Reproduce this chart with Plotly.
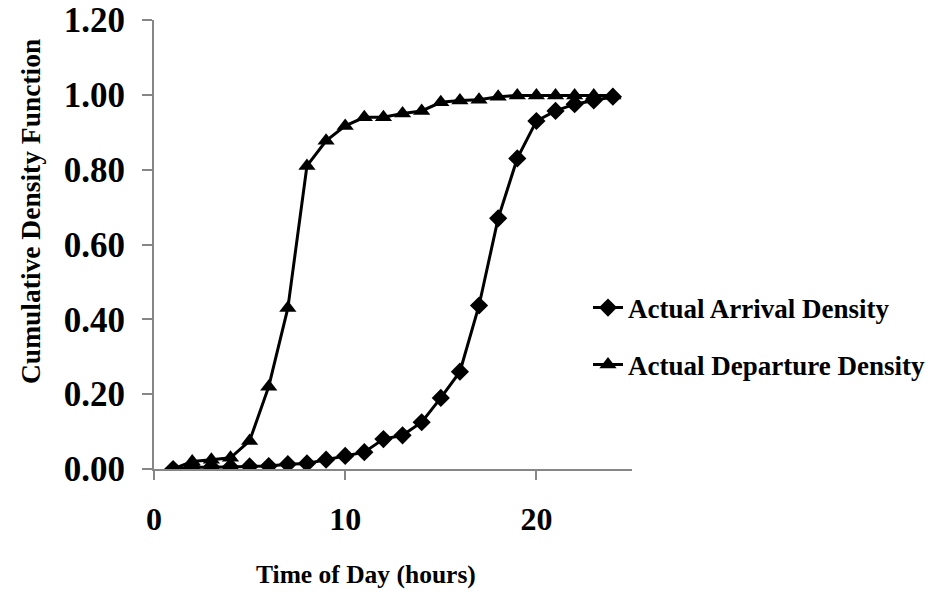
import plotly.graph_objects as go

hours = list(range(1, 25))
arrival = [0.000, 0.005, 0.005, 0.005, 0.007, 0.008, 0.013, 0.015, 0.025, 0.035, 0.045, 0.080,
           0.090, 0.125, 0.190, 0.260, 0.437, 0.670, 0.830, 0.930, 0.957, 0.975, 0.985, 0.995]
departure = [0.000, 0.020, 0.025, 0.030, 0.075, 0.220, 0.430, 0.810, 0.877, 0.917, 0.940, 0.940,
             0.950, 0.957, 0.980, 0.985, 0.987, 0.995, 0.998, 0.998, 0.998, 0.998, 0.998, 0.998]
y_ticks = [0.0, 0.2, 0.4, 0.6, 0.8, 1.0, 1.2]
x_ticks = [0, 10, 20]

FONT = "Liberation Serif"
AX = "#868686"

# page body adds an 8px margin; the figure is sized to fit the 936x596 window
OFF = 8
W, H = 936 - OFF, 596 - OFF
L, T, R, B = 154 - OFF, 20 - OFF, 936 - 632, 596 - 469
PW, PH = W - L - R, H - T - B


def px_x(p):
    return (p - OFF - L) / PW


def px_y(p):
    return (H - B - (p - OFF)) / PH


fig = go.Figure()
fig.add_trace(go.Scatter(
    x=hours, y=arrival, mode="lines+markers", name="<b>Actual Arrival Density</b>",
    line=dict(color="black", width=3),
    marker=dict(symbol="diamond", size=14, color="black"),
    legend="legend",
))
fig.add_trace(go.Scatter(
    x=hours, y=departure, mode="lines+markers", name="<b>Actual Departure Density</b>",
    line=dict(color="black", width=3),
    marker=dict(symbol="triangle-up", size=15, color="black"),
    legend="legend2",
))

legend_common = dict(
    xanchor="left", yanchor="middle", bgcolor="rgba(0,0,0,0)", visible=True,
    font=dict(family=FONT, size=27, color="black"),
)
fig.update_layout(
    width=W, height=H,
    margin=dict(l=L, r=R, t=T, b=B, autoexpand=False),
    plot_bgcolor="white", paper_bgcolor="white",
    font=dict(family=FONT, color="black"),
    showlegend=True,
    legend=dict(x=px_x(588), y=px_y(308), **legend_common),
    legend2=dict(x=px_x(588), y=px_y(365), **legend_common),
    xaxis=dict(
        range=[0, 25], tickvals=x_ticks, ticktext=["<b>%d</b>" % v for v in x_ticks],
        showgrid=False, zeroline=False, showline=True, linecolor=AX, linewidth=2,
        ticks="outside", ticklen=9, tickcolor=AX, tickwidth=2,
        ticklabelstandoff=12, automargin=False, ticklabeloverflow="allow",
        tickfont=dict(family=FONT, size=32, color="black"),
    ),
    yaxis=dict(
        range=[0, 1.2], tickvals=y_ticks, ticktext=["<b>%.2f</b>" % v for v in y_ticks],
        showgrid=False, zeroline=False, showline=True, linecolor=AX, linewidth=2,
        ticks="outside", ticklen=10, tickcolor=AX, tickwidth=2,
        ticklabelstandoff=10, automargin=False, ticklabeloverflow="allow",
        tickfont=dict(family=FONT, size=35, color="black"),
    ),
    annotations=[
        dict(text="<b>Time of Day (hours)</b>", xref="paper", yref="paper",
             x=px_x(366), y=px_y(574), xanchor="center", yanchor="middle",
             showarrow=False, font=dict(family=FONT, size=25.5, color="black")),
        dict(text="<b>Cumulative Density Function</b>", xref="paper", yref="paper",
             x=px_x(31), y=px_y(212), xanchor="center", yanchor="middle",
             textangle=-90, showarrow=False, font=dict(family=FONT, size=27.5, color="black")),
    ],
)

fig.write_html("out.html")
